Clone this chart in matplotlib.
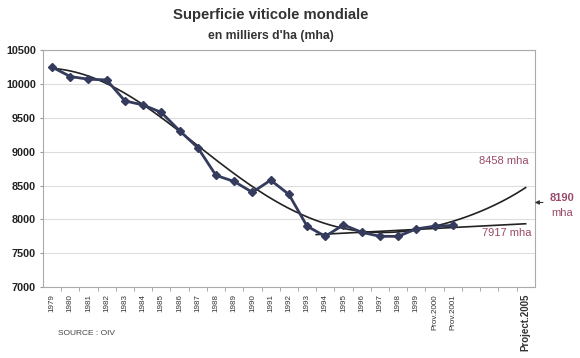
import numpy as np
import matplotlib
matplotlib.use("Agg")
import matplotlib.pyplot as plt

plt.rcParams["font.family"] = ["Liberation Sans", "DejaVu Sans"]

# categories: 1979..2005, 2002-2004 left blank
labels = [str(y) for y in range(1979, 2000)] + ["Prov.2000", "Prov.2001", "", "", "", "Project.2005"]
surface = [10250, 10110, 10070, 10060, 9750, 9690, 9580, 9310, 9060, 8650, 8560,
           8400, 8580, 8370, 7900, 7750, 7920, 7810, 7750, 7750, 7860, 7900, 7910]
# polynomial trend, one value per category (to 2005)
trend_poly = [10245, 10176, 10100, 10020, 9860, 9700, 9520, 9315, 9080, 8845,
              8680, 8475, 8310, 8180, 8030, 7950, 7890, 7815, 7795, 7810,
              7855, 7905, 7950, 8060, 8185, 8325, 8458]
lin_start = 15  # linear trend fitted from 1994 on

x_all = np.arange(len(labels))
x_dat = np.arange(len(surface))
lin = np.polyfit(x_dat[lin_start:], surface[lin_start:], 1)
# smooth the read trend values into a curve, like the spreadsheet's trendline
smooth = np.polyfit(x_all, trend_poly, 6)

fig = plt.figure(figsize=(5.8, 3.58), dpi=100)
ax = fig.add_axes([0.074, 0.198, 0.848, 0.662])

navy = "#343b5c"
mauve = "#9a4a6a"

xp = np.linspace(0, 26, 200)
ax.plot(xp, np.polyval(smooth, xp), color="#222222", lw=1.2, zorder=2)
xl = np.linspace(lin_start - 0.5, 26, 50)
ax.plot(xl, np.polyval(lin, xl), color="#222222", lw=1.2, zorder=2)
ax.plot(x_dat, surface, color=navy, lw=2, marker="D", ms=4, zorder=3)

ax.set_xlim(-0.5, 26.5)
ax.set_ylim(7000, 10500)
ax.set_yticks(np.arange(7000, 10501, 500))
ax.set_xticks(x_all)
ax.set_xticklabels(labels, rotation=90, fontsize=5.8, color="#333333")
for t in ax.get_xticklabels():
    if t.get_text() == "Project.2005":
        t.set_fontsize(7)
        t.set_fontweight("bold")
ax.set_xticks(x_all[:-1] + 0.5, minor=True)
ax.tick_params(axis="x", which="major", length=0, pad=5)
ax.tick_params(axis="x", which="minor", length=3, color="#999999")
ax.tick_params(axis="y", length=2, pad=3, color="#999999", labelsize=7.8)
for t in ax.get_yticklabels():
    t.set_fontweight("bold")
    t.set_color("#222222")
ax.grid(axis="y", color="#dddddd", lw=0.8)
for s in ax.spines.values():
    s.set_color("#aaaaaa")
    s.set_linewidth(0.8)

fig.text(0.467, 0.958, "Superficie viticole mondiale", ha="center", va="center",
         fontsize=10.7, fontweight="bold", color="#333333")
fig.text(0.467, 0.9, "en milliers d'ha (mha)", ha="center", va="center",
         fontsize=8.8, fontweight="bold", color="#333333")
fig.text(0.1, 0.063, "SOURCE : OIV", fontsize=6, color="#444444")

ax.text(26.15, 8858, "8458 mha", ha="right", va="center", fontsize=8, color=mauve)
ax.text(26.3, 7797, "7917 mha", ha="right", va="center", fontsize=8, color=mauve)
ax.annotate("", xy=(26.35, 8250), xytext=(27.1, 8250), xycoords="data",
            arrowprops=dict(arrowstyle="-|>", color="#333333", lw=0.8, mutation_scale=6),
            annotation_clip=False)
ax.text(28.0, 8310, "8190", ha="center", va="center", fontsize=8, fontweight="bold",
        color=mauve, clip_on=False)
ax.text(28.0, 8090, "mha", ha="center", va="center", fontsize=8, color=mauve, clip_on=False)

fig.savefig("out.png", dpi=100)
